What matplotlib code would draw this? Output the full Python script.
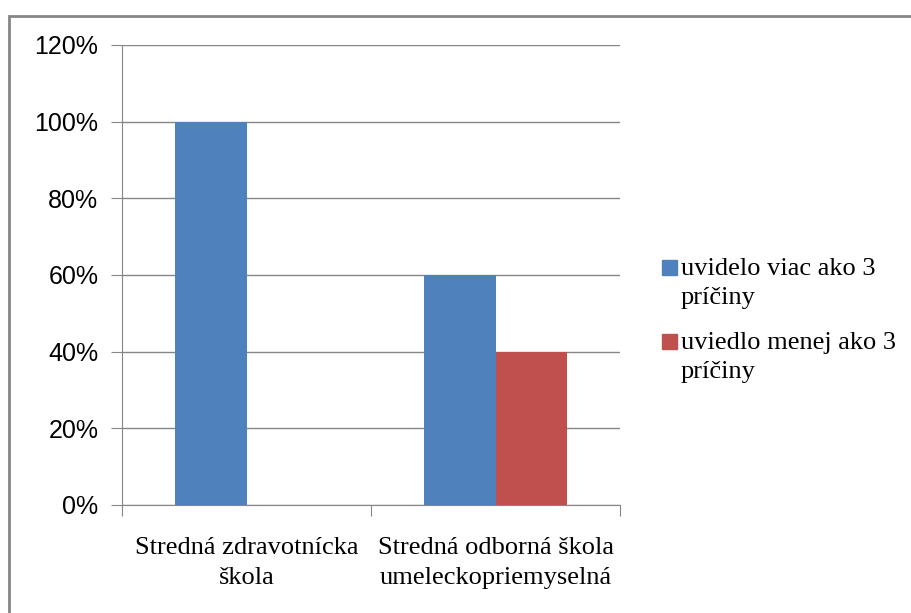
import matplotlib.pyplot as plt
import numpy as np
from matplotlib.patches import Rectangle
from matplotlib.ticker import PercentFormatter

# kategórie a hodnoty (podiel žiakov)
skoly = ["Stredná zdravotnícka\nškola", "Stredná odborná škola\numeleckopriemyselná"]
viac_ako_3 = [1.00, 0.60]
menej_ako_3 = [0.00, 0.40]
nazvy_radov = ["uvidelo viac ako 3\npríčiny", "uviedlo menej ako 3\npríčiny"]
farby = ["#4f81bd", "#c0504d"]

W, H = 911, 613
fig = plt.figure(figsize=(W / 100, H / 100), dpi=100)
ax = fig.add_axes([122 / W, 108 / H, 498 / W, 460 / H])

# rámik okolo celého grafu
fig.patches.append(Rectangle((9 / W, -0.05), 1.1, (H - 15.5) / H + 0.05,
                             transform=fig.transFigure, fill=False,
                             edgecolor="#868686", linewidth=2))

x = np.arange(len(skoly))
sirka = 1 / 3.5
ax.bar(x - sirka / 2, viac_ako_3, sirka, color=farby[0], zorder=3)
ax.bar(x + sirka / 2, menej_ako_3, sirka, color=farby[1], zorder=3)

ax.set_xlim(-0.5, 1.5)
ax.set_ylim(0, 1.2)
ax.set_yticks(np.arange(0, 1.21, 0.2))
ax.yaxis.set_major_formatter(PercentFormatter(1.0, decimals=0))
ax.yaxis.grid(True, color="#868686", linewidth=1, zorder=0)

# hranice kategórií ako značky na osi x
ax.set_xticks([-0.5, 0.5, 1.5])
ax.set_xticklabels([])
ax.set_xticks(x, minor=True)
ax.set_xticklabels(skoly, minor=True, fontfamily="Liberation Serif", fontsize=19,
                   linespacing=1.45)
ax.tick_params(axis="x", which="minor", length=0, pad=23)
ax.tick_params(axis="x", which="major", length=8, color="#868686", direction="out")
ax.tick_params(axis="y", length=8, color="#868686", labelsize=18, pad=9)
for t in ax.get_yticklabels():
    t.set_fontfamily("Liberation Sans")

for s in ["top", "right"]:
    ax.spines[s].set_visible(False)
for s in ["left", "bottom"]:
    ax.spines[s].set_color("#868686")

# legenda: štvorček pri prvom riadku popisu
for i, (nazov, farba) in enumerate(zip(nazvy_radov, farby)):
    y = 268 + i * 74
    fig.patches.append(Rectangle((662 / W, 1 - (y + 7) / H), 15 / W, 15 / H,
                                 transform=fig.transFigure, color=farba))
    fig.text(681 / W, 1 - (y - 10) / H, nazov, ha="left", va="top",
             fontfamily="Liberation Serif", fontsize=19, linespacing=1.4)

fig.savefig("out.png", dpi=100)
